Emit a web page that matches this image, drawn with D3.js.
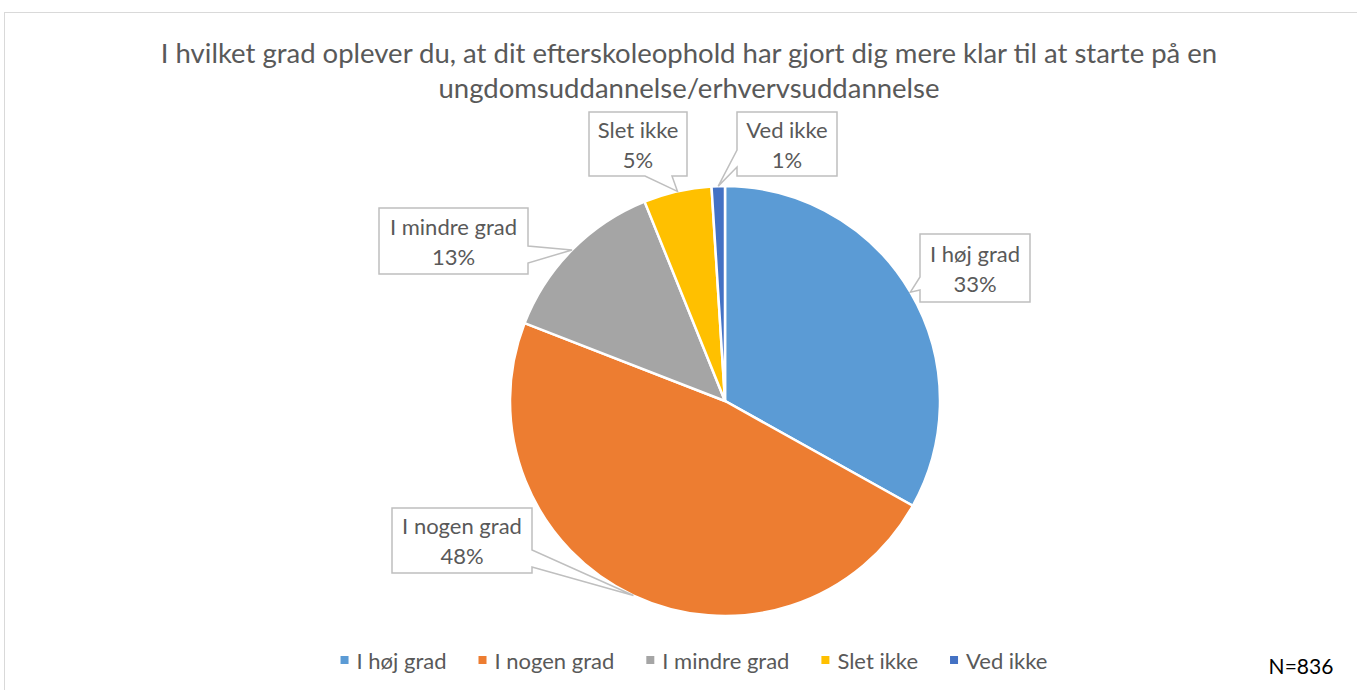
<!DOCTYPE html>
<html>
<head>
<meta charset="utf-8">
<script src="https://cdn.jsdelivr.net/npm/d3@7"></script>
<style>
  body { margin: 0; background: #fff; }
  svg { display: block; font-family: Lato, "Open Sans", sans-serif; }
</style>
</head>
<body>
<svg width="1357" height="690"></svg>
<script>
// data
const categories = ["I høj grad", "I nogen grad", "I mindre grad", "Slet ikke", "Ved ikke"];
const shares = [33.1, 47.8, 13.0, 5.1, 1.0];
const colors = ["#5b9bd5", "#ed7d31", "#a5a5a5", "#ffc000", "#4472c4"];
const titleLines = ["I hvilket grad oplever du, at dit efterskoleophold har gjort dig mere klar til at starte på en",
  "ungdomsuddannelse/erhvervsuddannelse"];
const note = "N=836";

// callout boxes: x, y, w, h, side the pointer leaves from, two offsets along that side
const callouts = [
  { x: 920, y: 234, w: 110, h: 68, side: "left", a: 43, b: 56 },
  { x: 392, y: 508, w: 140, h: 65, side: "right", a: 42, b: 59 },
  { x: 379, y: 208, w: 149, h: 66, side: "right", a: 38, b: 55 },
  { x: 589, y: 112, w: 98, h: 64, side: "bottom", a: 56, b: 83 },
  { x: 737, y: 112, w: 100, h: 64, side: "left", a: 38, b: 55 }
];

const svg = d3.select("svg");
const cx = 725, cy = 401, r = 215;

// chart frame
svg.append("rect")
  .attr("x", 4.5).attr("y", 12.5)
  .attr("width", 1400).attr("height", 700)
  .style("fill", "none").style("stroke", "#d9d9d9").style("stroke-width", 1);

// title
svg.append("g").selectAll("text")
  .data(titleLines)
  .join("text")
  .attr("x", 689)
  .attr("y", (d, i) => 52 + i * 35)
  .attr("text-anchor", "middle")
  .attr("dominant-baseline", "central")
  .style("font-size", "27.5px")
  .style("fill", "#595959")
  .text(d => d);

const pie = d3.pie().sort(null).value(d => d);
const arcs = pie(shares);
const arc = d3.arc().innerRadius(0).outerRadius(r);

const g = svg.append("g").attr("transform", `translate(${cx},${cy})`);
g.selectAll("path")
  .data(arcs)
  .join("path")
  .attr("d", arc)
  .style("fill", (d, i) => colors[i])
  .style("stroke", "#fff")
  .style("stroke-width", 2.5);

// callouts
function calloutPath(c, tx, ty) {
  const x0 = c.x, y0 = c.y, x1 = c.x + c.w, y1 = c.y + c.h;
  if (c.side === "left") {
    return `M${x0},${y0}L${x1},${y0}L${x1},${y1}L${x0},${y1}L${x0},${y0 + c.b}L${tx},${ty}L${x0},${y0 + c.a}Z`;
  }
  if (c.side === "right") {
    return `M${x0},${y0}L${x1},${y0}L${x1},${y0 + c.a}L${tx},${ty}L${x1},${y0 + c.b}L${x1},${y1}L${x0},${y1}Z`;
  }
  return `M${x0},${y0}L${x1},${y0}L${x1},${y1}L${x0 + c.b},${y1}L${tx},${ty}L${x0 + c.a},${y1}L${x0},${y1}Z`;
}

const labels = svg.append("g");
arcs.forEach((d, i) => {
  const c = callouts[i];
  const mid = (d.startAngle + d.endAngle) / 2;
  const tx = cx + Math.sin(mid) * r;
  const ty = cy - Math.cos(mid) * r;
  labels.append("path")
    .attr("d", calloutPath(c, tx, ty))
    .style("fill", "#fff")
    .style("stroke", "#bfbfbf")
    .style("stroke-width", 1.5);
  const lines = [categories[i], Math.round(shares[i]) + "%"];
  labels.selectAll(null)
    .data(lines)
    .join("text")
    .attr("x", c.x + c.w / 2)
    .attr("y", (t, j) => c.y + c.h / 2 + (j === 0 ? -15 : 15))
    .attr("text-anchor", "middle")
    .attr("dominant-baseline", "central")
    .style("font-size", "22px")
    .style("fill", "#595959")
    .text(t => t);
});

// legend
const legend = svg.append("g");
let lx = 0;
categories.forEach((name, i) => {
  legend.append("rect")
    .attr("x", lx).attr("y", 656)
    .attr("width", 8).attr("height", 8)
    .style("fill", colors[i]);
  const t = legend.append("text")
    .attr("x", lx + 16).attr("y", 660)
    .attr("dominant-baseline", "central")
    .style("font-size", "22px")
    .style("fill", "#595959")
    .text(name);
  lx += 16 + t.node().getComputedTextLength() + 32;
});
lx -= 32;
legend.attr("transform", `translate(${694 - lx / 2},0)`);

svg.append("text")
  .attr("x", 1301).attr("y", 665)
  .attr("text-anchor", "middle")
  .attr("dominant-baseline", "central")
  .style("font-size", "21px")
  .style("fill", "#000")
  .text(note);
</script>
</body>
</html>
